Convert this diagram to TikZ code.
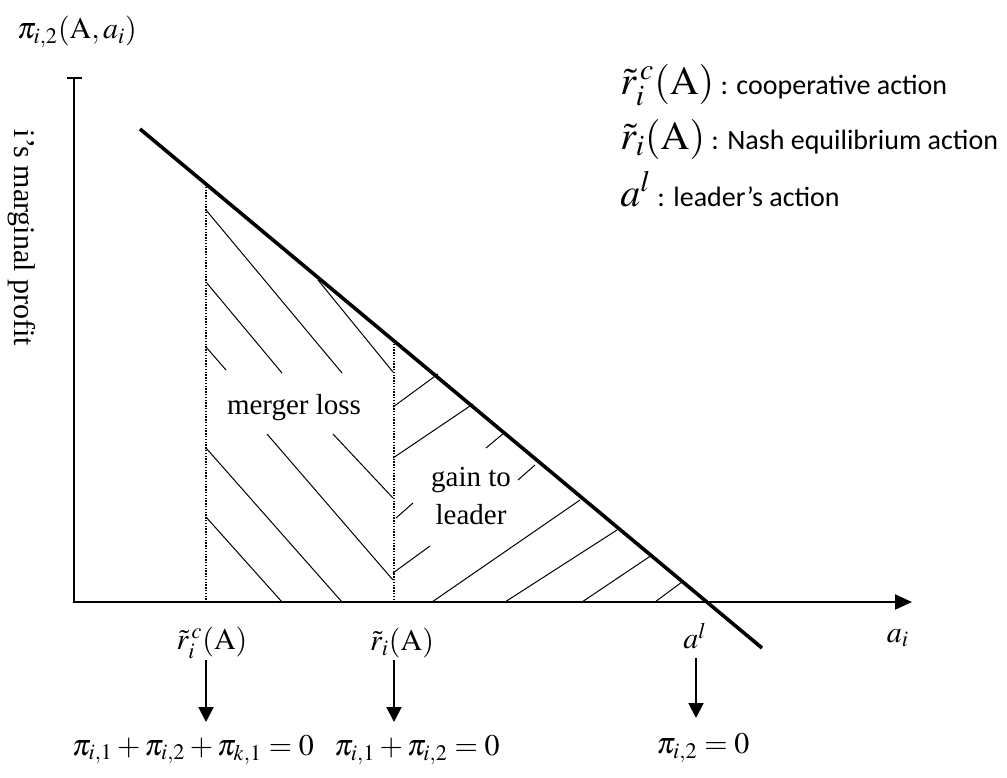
\documentclass[tikz,border=0pt]{standalone}
\usepackage{mathptmx}
\usepackage[no-math]{fontspec}
\setmainfont{Liberation Serif}
\newfontfamily\calibri{Carlito}
\usepackage{tikz}
\usetikzlibrary{
    arrows.meta,
    positioning,
    calc
}
\tikzset{
    axis/.style={
        draw=black,
        line width=1pt
    }
}
\tikzset{
    demand/.style={
        draw=black,
        line width=1.8pt
    }
}
\tikzset{
    guide/.style={
        draw=black,
        line width=0.7pt,
        dash pattern=on 0.7pt off 0.7pt
    }
}
\tikzset{
    hatch/.style={
        draw=black,
        line width=0.5pt
    }
}
\tikzset{
    down/.style={
        draw=black,
        line width=1pt,
        -{Triangle[length=7.5pt,width=7.5pt]}
    }
}
\tikzset{
    lbl/.style={
        font=\fontsize{15}{17}\selectfont,
        inner sep=0pt
    }
}
\tikzset{
    legend/.style={
        anchor=base west,
        inner sep=0pt
    }
}

\begin{document}
\begin{tikzpicture}[
    x=0.5pt, y=-0.5pt,
    >=Latex
]
\useasboundingbox (0,0) rectangle (1007,777);

% ------------------------------------------------------------
% Axes
% ------------------------------------------------------------

\draw[axis] (67,78) -- (82,78);
\draw[axis, -{Triangle[length=8.5pt,width=7.5pt]}] (74,78) -- (74,602) -- (912,602);

\node[lbl] (yname) at (77,32) {$\pi_{i,2}(\mathrm{A},a_i)$};
\node[lbl, rotate=-90] (ytext) at (22,238) {i's marginal profit};
\node[lbl] (xname) at (898,638) {$a_i$};

% ------------------------------------------------------------
% Marginal profit line and the two actions
% ------------------------------------------------------------

\draw[demand] (140,129) -- (762,648);

\coordinate (cr) at (206,602);
\coordinate (nr) at (394,602);
\coordinate (lr) at (696,602);

\draw[guide] (206,184) -- (cr);
\draw[guide] (394,341) -- (nr);

% merger loss
\foreach \xa/\ya/\xb/\yb in {206/210/342/373, 206/282/282/373, 206/347/226/370,
    318/280/393/372, 267/434/393/580, 333/434/393/498,
    206/448/342/602, 206/517/282/602} {
    \draw[hatch] (\xa,\ya) -- (\xb,\yb);
}

% gain to leader
\foreach \xa/\ya/\xb/\yb in {393/407/438/374, 393/458/473/404, 486/448/504/433,
    518/480/535/465, 396/518/413/503, 393/573/430/546,
    432/602/580/500, 505/602/617/530, 582/602/652/555, 655/602/682/582} {
    \draw[hatch] (\xa,\ya) -- (\xb,\yb);
}

\node[lbl, font=\fontsize{14.5}{17}\selectfont] (loss) at (294,408) {merger loss};
\node[lbl, font=\fontsize{14.5}{19}\selectfont, align=center] (gain) at (471,496) {gain to\\leader};

% ------------------------------------------------------------
% Actions and first order conditions
% ------------------------------------------------------------

\node[lbl] (rc) at (212,643) {$\tilde{r}_i^{\,c}(\mathrm{A})$};
\node[lbl] (rn) at (402,643) {$\tilde{r}_i(\mathrm{A})$};
\node[lbl] (al) at (695,636) {$a^l$};

\node[lbl] (fc) at (193,750) {$\pi_{i,1}+\pi_{i,2}+\pi_{k,1}=0$};
\node[lbl] (fn) at (417,750) {$\pi_{i,1}+\pi_{i,2}=0$};
\node[lbl] (fl) at (703,748) {$\pi_{i,2}=0$};

\draw[down] (cr |- 0,660) -- (cr |- 0,722);
\draw[down] (nr |- 0,660) -- (nr |- 0,722);
\draw[down] (lr |- 0,658) -- (lr |- 0,718);

% ------------------------------------------------------------
% Legend
% ------------------------------------------------------------

\node[legend] (leg1) at (620,94)
    {\fontsize{20}{22}\selectfont$\tilde{r}_i^{\,c}(\mathrm{A})$\calibri\fontsize{14}{17}\selectfont\ : cooperative action};
\node[legend] (leg2) at (620,149)
    {\fontsize{20}{22}\selectfont$\tilde{r}_i(\mathrm{A})$\calibri\fontsize{14}{17}\selectfont\ : Nash equilibrium action};
\node[legend] (leg3) at (620,206)
    {\fontsize{20}{22}\selectfont$a^l$\calibri\fontsize{14}{17}\selectfont\ : leader’s action};

\end{tikzpicture}
\end{document}
